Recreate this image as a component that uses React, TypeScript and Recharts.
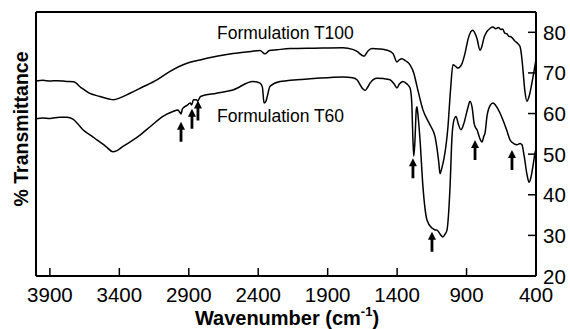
import React from "react";
import { LineChart, Line, XAxis, YAxis, ReferenceLine, ReferenceDot } from "recharts";

// T100 spectrum (wavenumber, % transmittance)
const t100Wn = [
  4000, 3950, 3900, 3850, 3780, 3730, 3676, 3620, 3540, 3467, 3440, 3400, 3323, 3240, 3129, 3035,
  2913, 2819, 2700, 2582, 2450, 2387, 2351, 2320, 2265, 2171, 2000, 1790, 1720, 1689, 1638, 1610,
  1581, 1530, 1473, 1430, 1401, 1385, 1365, 1340, 1307, 1280, 1257, 1214, 1163, 1127, 1113, 1100,
  1091, 1075, 1062, 1034, 1015, 998, 975, 962, 945, 933, 910, 890, 865, 854, 840, 825, 803, 790,
  774, 753, 730, 710, 690, 670, 655, 640, 625, 609, 595, 580, 551, 530, 515, 500, 494, 480, 465,
  450, 429, 400,
];
const t100T = [
  68.0, 68.2, 68.0, 68.1, 67.9, 67.8, 66.4, 65.1, 64.2, 63.5, 63.4, 63.8, 65.0, 66.4, 68.3, 70.4,
  72.4, 73.2, 74.1, 74.8, 75.3, 75.5, 74.7, 75.5, 75.7, 76.0, 76.1, 76.2, 75.8, 75.3, 74.1, 75.4,
  76.0, 75.9, 75.6, 74.8, 72.7, 73.2, 73.5, 73.0, 72.0, 70.0, 66.7, 60.9, 57.2, 54.3, 51.5, 48.0,
  45.2, 47.0, 49.0, 56.7, 66.0, 72.0, 71.5, 71.2, 71.6, 72.3, 75.0, 78.2, 80.3, 80.5, 79.8, 78.5,
  75.6, 76.5, 78.7, 80.2, 81.0, 81.3, 80.9, 81.2, 80.7, 80.8, 79.8, 79.6, 79.0, 78.9, 77.8, 77.2,
  76.5, 73.0, 70.8, 65.5, 63.0, 64.2, 67.6, 73.3,
];

// T60 spectrum
const t60Wn = [
  4000, 3950, 3900, 3830, 3777, 3734, 3700, 3662, 3600, 3561, 3500, 3446, 3420, 3374, 3300, 3251,
  3170, 3086, 3014, 2978, 2965, 2956, 2945, 2913, 2890, 2880, 2866, 2845, 2836, 2815, 2700, 2582,
  2438, 2387, 2370, 2358, 2345, 2337, 2315, 2243, 2000, 1790, 1720, 1689, 1650, 1631, 1610, 1595,
  1545, 1500, 1451, 1420, 1401, 1385, 1358, 1330, 1307, 1295, 1286, 1280, 1272, 1262, 1257, 1248,
  1235, 1214, 1185, 1149, 1130, 1113, 1090, 1070, 1055, 1041, 1019, 1005, 990, 976, 960, 940, 920,
  890, 875, 860, 845, 839, 825, 800, 789, 775, 767, 753, 730, 710, 690, 660, 638, 610, 587, 560,
  537, 515, 501, 485, 465, 450, 435, 420, 407, 400,
];
const t60T = [
  58.7, 58.9, 58.8, 59.1, 59.1, 58.6, 57.5, 56.0, 54.5, 53.5, 52.0, 50.6, 50.8, 51.9, 53.5, 54.7,
  57.0, 59.3, 60.5, 60.9, 60.3, 59.9, 61.2, 62.0, 62.6, 62.1, 63.4, 63.4, 63.1, 64.2, 65.0, 65.8,
  67.9, 67.5, 66.5, 62.6, 63.0, 63.9, 66.7, 67.9, 68.6, 69.0, 68.8, 68.3, 66.2, 65.7, 66.6, 67.5,
  68.7, 68.6, 68.3, 67.2, 66.3, 67.2, 67.9, 67.3, 66.3, 63.0, 53.5, 49.5, 53.0, 61.0, 61.7, 59.0,
  53.5, 42.0, 33.8, 31.8, 31.4, 31.3, 30.3, 29.6, 30.3, 31.3, 41.9, 54.2, 58.5, 59.3, 57.5, 56.0,
  57.5, 61.5, 63.0, 61.5, 57.5, 56.8, 56.0, 53.5, 53.0, 54.5, 55.2, 59.3, 62.0, 62.6, 62.0, 60.2,
  58.4, 55.8, 53.5, 52.6, 52.3, 52.6, 52.3, 49.5, 45.0, 43.1, 44.5, 47.5, 50.3, 51.2,
];

// arrow tips marking T60 bands
const arrowWn = [2956, 2877, 2834, 1286, 1149, 839, 573];
const arrowT = [58.0, 61.2, 63.2, 49.0, 30.9, 53.5, 51.0];

const xTicks = [3900, 3400, 2900, 2400, 1900, 1400, 900, 400];
const yTicks = [20, 30, 40, 50, 60, 70, 80];

const t100Data = t100Wn.map((wn, i) => ({ wn, t: t100T[i] }));
const t60Data = t60Wn.map((wn, i) => ({ wn, t: t60T[i] }));

const FONT = "'Liberation Sans', Arial, Helvetica, sans-serif";

const XTick = (props: any) => {
  const { x, y, payload } = props;
  return (
    <g>
      <line x1={x} x2={x} y1={y} y2={y - 8} stroke="#000" strokeWidth={1.5} />
      <text x={x} y={y + 26} textAnchor="middle" fontSize={20.5} fontFamily={FONT} fill="#000">
        {payload.value}
      </text>
    </g>
  );
};

const YTick = (props: any) => {
  const { x, y, payload } = props;
  return (
    <g>
      <line x1={x} x2={x - 8} y1={y} y2={y} stroke="#000" strokeWidth={1.5} />
      <text x={x + 7} y={y + 7.5} textAnchor="start" fontSize={20.5} fontFamily={FONT} fill="#000">
        {payload.value}
      </text>
    </g>
  );
};

const Arrow = (props: any) => {
  const { cx, cy } = props;
  const pts = [
    [cx, cy],
    [cx - 4, cy + 8],
    [cx - 1.4, cy + 8],
    [cx - 1.4, cy + 20],
    [cx + 1.4, cy + 20],
    [cx + 1.4, cy + 8],
    [cx + 4, cy + 8],
  ]
    .map((p) => p.join(","))
    .join(" ");
  return <polygon points={pts} fill="#000" />;
};

const seriesLabel = (text: string) => (props: any) => (
  <text x={props.cx} y={props.cy} fontSize={17.5} fontFamily={FONT} fill="#000">
    {text}
  </text>
);

export default function App() {
  return (
    <div style={{ position: "absolute", left: 0, top: 0, width: 570, height: 329, background: "#fff" }}>
      <LineChart width={570} height={329} margin={{ top: 12, right: 0, left: 36, bottom: 0 }}>
        <XAxis
          dataKey="wn"
          type="number"
          domain={[400, 4000]}
          reversed
          allowDataOverflow
          ticks={xTicks}
          height={53}
          tickSize={0}
          tickMargin={0}
          tickLine={false}
          tick={<XTick />}
          axisLine={{ stroke: "#000", strokeWidth: 2 }}
          interval={0}
        />
        <YAxis
          orientation="right"
          type="number"
          domain={[20, 85]}
          allowDataOverflow
          ticks={yTicks}
          width={34}
          tickSize={0}
          tickMargin={0}
          tickLine={false}
          tick={<YTick />}
          axisLine={{ stroke: "#000", strokeWidth: 2 }}
          interval={0}
        />
        <ReferenceLine y={85} stroke="#000" strokeWidth={2} />
        <ReferenceLine x={4000} stroke="#000" strokeWidth={2} />
        <Line
          data={t100Data}
          dataKey="t"
          type="monotone"
          stroke="#000"
          strokeWidth={1.5}
          dot={false}
          isAnimationActive={false}
        />
        <Line
          data={t60Data}
          dataKey="t"
          type="monotone"
          stroke="#000"
          strokeWidth={1.5}
          dot={false}
          isAnimationActive={false}
        />
        {arrowWn.map((wn, i) => (
          <ReferenceDot key={wn} x={wn} y={arrowT[i]} r={0} shape={<Arrow />} />
        ))}
        <ReferenceDot x={2697} y={78.3} r={0} shape={seriesLabel("Formulation T100")} />
        <ReferenceDot x={2697} y={57.8} r={0} shape={seriesLabel("Formulation T60")} />
      </LineChart>
      <svg
        width={570}
        height={329}
        style={{ position: "absolute", left: 0, top: 0, pointerEvents: "none" }}
      >
        <text
          transform="translate(28,129) rotate(-90)"
          textAnchor="middle"
          fontSize={19.5}
          fontWeight="bold"
          fontFamily={FONT}
          fill="#000"
        >
          % Transmittance
        </text>
        <text x={287} y={325} textAnchor="middle" fontSize={20} fontWeight="bold" fontFamily={FONT} fill="#000">
          <tspan>Wavenumber (cm</tspan>
          <tspan fontSize={13} dy={-9}>-1</tspan>
          <tspan dy={9}>)</tspan>
        </text>
      </svg>
    </div>
  );
}
